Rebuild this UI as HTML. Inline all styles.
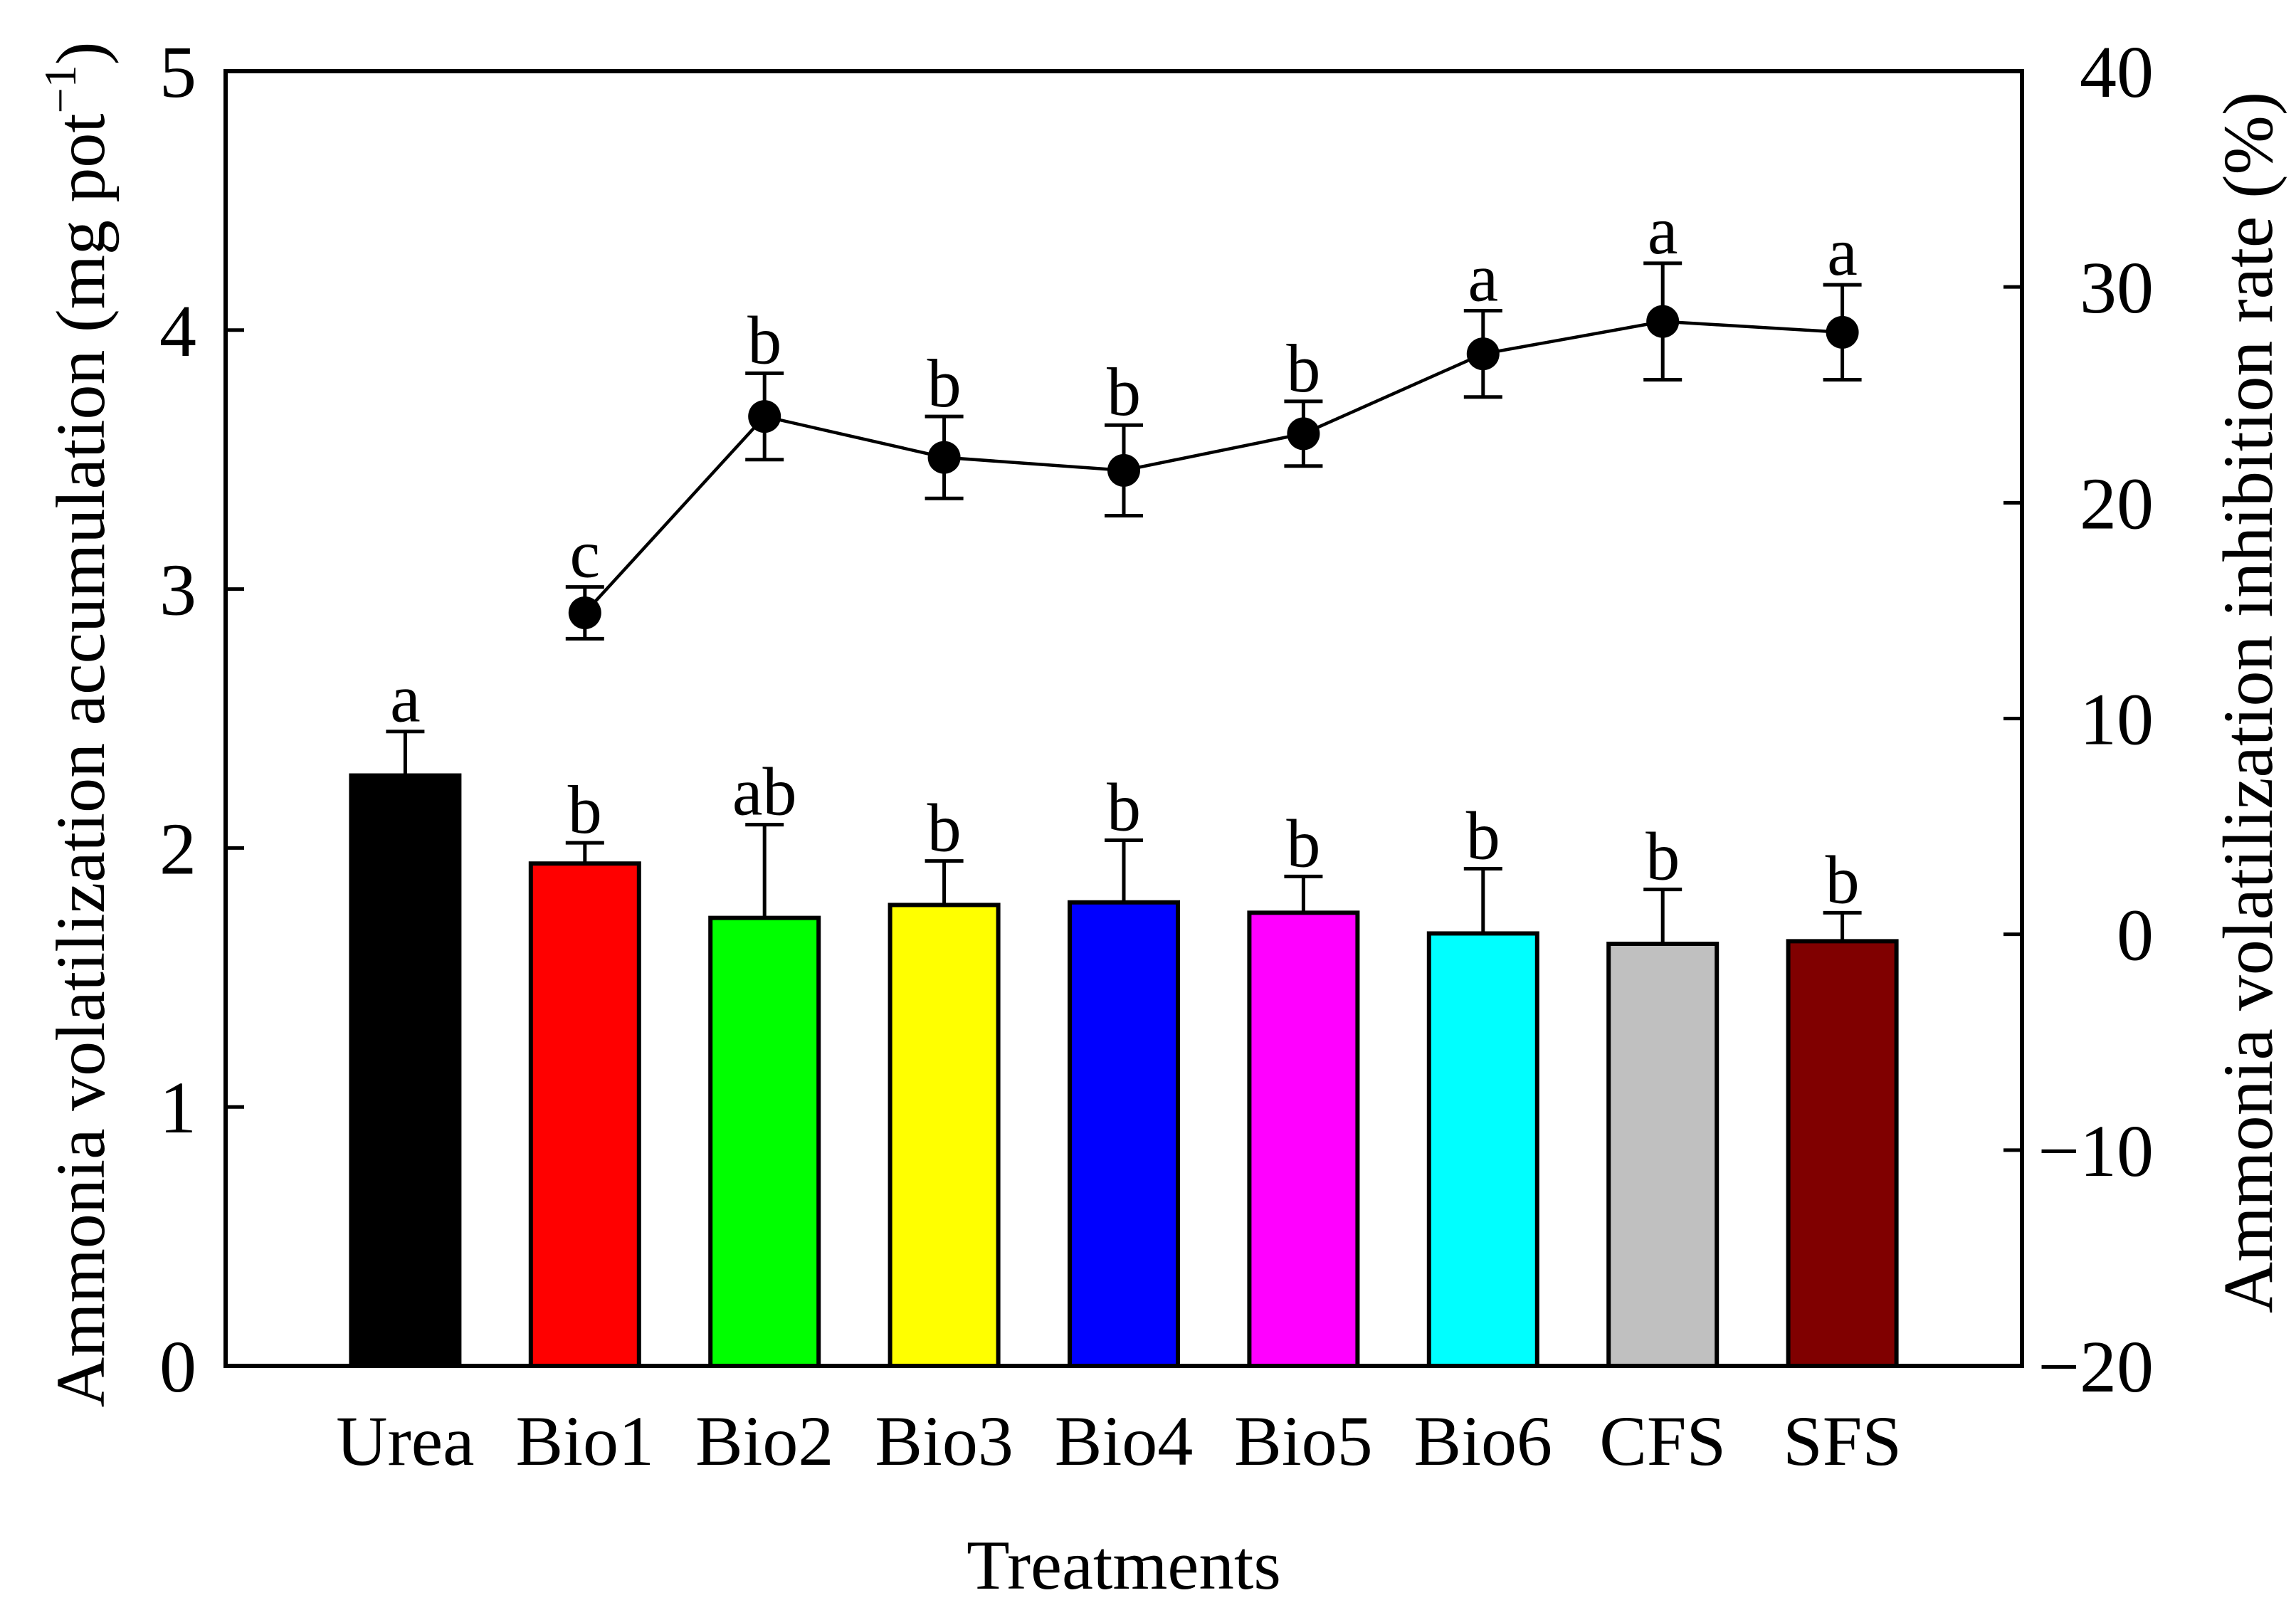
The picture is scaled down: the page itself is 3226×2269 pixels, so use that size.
<!DOCTYPE html>
<html><head><meta charset="utf-8"><style>
html,body{margin:0;padding:0;background:#fff}
svg{display:block;font-family:"Liberation Serif","Times New Roman",serif}
</style></head><body>
<svg id="chart" width="3226" height="2269" viewBox="0 0 3226 2269" xmlns="http://www.w3.org/2000/svg">
<g id="bars"></g>
<g id="line"></g>
<rect x="317" y="100" width="2524" height="1819" fill="none" stroke="#000" stroke-width="6"/>
<g id="axes"></g>
<text transform="translate(146,1018) rotate(-90)" text-anchor="middle" font-size="98">Ammonia volatilization accumulation (mg pot<tspan dy="-40" font-size="64">−1</tspan><tspan dy="40">)</tspan></text>
<text transform="translate(3192,987) rotate(-90)" text-anchor="middle" font-size="100">Ammonia volatilization inhibition rate (%)</text>
<text x="1579" y="2232" text-anchor="middle" font-size="99">Treatments</text>
</svg>
<script>
const categories = ["Urea","Bio1","Bio2","Bio3","Bio4","Bio5","Bio6","CFS","SFS"];
const barValues = [2.28,1.94,1.73,1.78,1.79,1.75,1.67,1.63,1.64];
const barErrors = [0.17,0.08,0.36,0.17,0.24,0.14,0.25,0.21,0.11];
const barLetters = ["a","b","ab","b","b","b","b","b","b"];
const barColors = ["#000000","#ff0000","#00ff00","#ffff00","#0000ff","#ff00ff","#00ffff","#c0c0c0","#800000"];
const lineValues = [null,14.9,24.0,22.1,21.5,23.2,26.9,28.4,27.9];
const lineErrors = [null,1.2,2.0,1.9,2.1,1.5,2.0,2.7,2.2];
const lineLetters = ["","c","b","b","b","b","a","a","a"];
const yTicks = [0,1,2,3,4,5];
const y2Ticks = [-20,-10,0,10,20,30,40];

const L=317,R=2841,T=100,B=1919;
const NS="http://www.w3.org/2000/svg";
const x = i => L + (i+1)*(R-L)/(categories.length+1);
const y = v => B - (v-0)/(5-0)*(B-T);
const y2 = v => B - (v+20)/60*(B-T);
function mk(tag, attrs, parent){const e=document.createElementNS(NS,tag);for(const k in attrs)e.setAttribute(k,attrs[k]);parent.appendChild(e);return e;}
const gb=document.getElementById('bars'), gl=document.getElementById('line'), ga=document.getElementById('axes');
const bw=152, cw=27;
categories.forEach((c,i)=>{
  const cx=x(i), top=y(barValues[i]), et=y(barValues[i]+barErrors[i]);
  const eb=mk('line',{x1:cx,y1:top,x2:cx,y2:et,stroke:'#000','stroke-width':5},gb);
  
  
  const cap=mk('line',{x1:cx-cw,y1:et,x2:cx+cw,y2:et,stroke:'#000','stroke-width':5},gb);
  
  
  const r=mk('rect',{x:cx-bw/2,y:top,width:bw,height:B-top,fill:barColors[i],stroke:'#000','stroke-width':6},gb);
  
  
  const t=mk('text',{x:cx,y:et-14,'text-anchor':'middle','font-size':96},gb);
  t.textContent=barLetters[i];
  
  
  const xl=mk('text',{x:cx,y:2058,'text-anchor':'middle','font-size':100},ga);
  xl.textContent=c;
  
  
});
let pts=[];
lineValues.forEach((v,i)=>{ if(v!==null) pts.push(x(i)+','+y2(v)); });
const pl=mk('polyline',{points:pts.join(' '),fill:'none',stroke:'#000','stroke-width':4.5},gl);


lineValues.forEach((v,i)=>{
  if(v===null) return;
  const cx=x(i), cy=y2(v), hi=y2(v+lineErrors[i]), lo=y2(v-lineErrors[i]);
  const e=mk('path',{d:`M${cx},${hi}V${lo}M${cx-cw},${hi}H${cx+cw}M${cx-cw},${lo}H${cx+cw}`,stroke:'#000','stroke-width':5,fill:'none'},gl);
  
  
  const p=mk('circle',{cx:cx,cy:cy,r:23,fill:'#000'},gl);
  
  
  const t=mk('text',{x:cx,y:hi-14,'text-anchor':'middle','font-size':96},gl);
  t.textContent=lineLetters[i];
  
  
});
yTicks.forEach(v=>{
  const yy=y(v);
  const tk=mk('line',{x1:L,y1:yy,x2:L+26,y2:yy,stroke:'#000','stroke-width':5},ga);
  
  
  const t=mk('text',{x:276,y:yy+36,'text-anchor':'end','font-size':104},ga);
  t.textContent=v;
  
  
});
y2Ticks.forEach(v=>{
  const yy=y2(v);
  const tk=mk('line',{x1:R-26,y1:yy,x2:R,y2:yy,stroke:'#000','stroke-width':5},ga);
  
  
  const t=mk('text',{x:3026,y:yy+36,'text-anchor':'end','font-size':104},ga);
  t.textContent=v<0?'−'+Math.abs(v):v;
  
  
});
</script>
</body></html>
